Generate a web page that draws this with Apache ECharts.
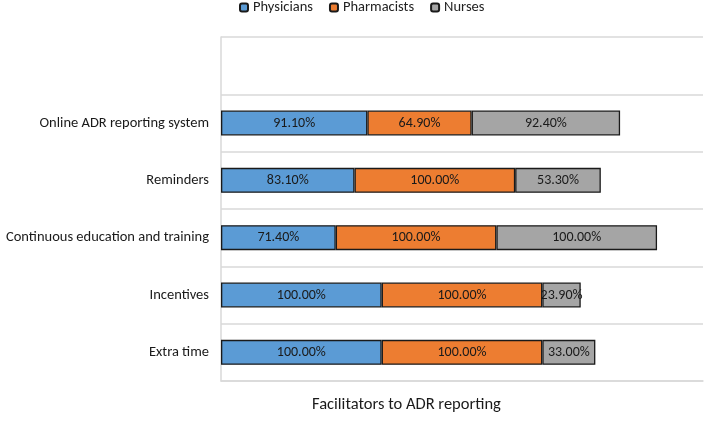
<!DOCTYPE html>
<html>
<head>
<meta charset="utf-8">
<script src="https://cdn.jsdelivr.net/npm/echarts@6/dist/echarts.min.js"></script>
<style>html,body{margin:0;padding:0;background:#fff}#c{width:713px;height:422px}</style>
</head>
<body>
<div id="c"></div>
<script>
var categories = ['Extra time', 'Incentives', 'Continuous education and training', 'Reminders', 'Online ADR reporting system', ''];
var physicians = [100, 100, 71.4, 83.1, 91.1, null];
var pharmacists = [100, 100, 100, 100, 64.9, null];
var nurses = [33, 23.9, 100, 53.3, 92.4, null];
var seriesNames = ['Physicians', 'Pharmacists', 'Nurses'];
var axisTitle = 'Facilitators to ADR reporting';

var FONT = 'Carlito, "Liberation Sans", Arial, sans-serif';
var colors = ['#5B9BD5', '#ED7D31', '#A5A5A5'];
function mk(name, data, color) {
  return {
    name: name, type: 'bar', stack: 'total', data: data, barWidth: 25,
    itemStyle: { color: color, borderColor: '#1a1a1a', borderWidth: 1.3 },
    label: { show: true, position: 'inside', color: '#1a1a1a', fontFamily: FONT, fontSize: 14,
      formatter: function (p) { return p.value == null ? '' : p.value.toFixed(2) + '%'; } },
    emphasis: { disabled: true }
  };
}
var chart = echarts.init(document.getElementById('c'), null, { renderer: 'canvas' });
chart.setOption({
  animation: false,
  color: colors,
  textStyle: { fontFamily: FONT },
  legend: {
    top: 0, left: 239, padding: [0, 0], itemWidth: 8, itemHeight: 8, itemGap: 16,
    textStyle: { fontFamily: FONT, fontSize: 14.5, color: '#222' },
    data: seriesNames
  },
  grid: { left: 221, right: 10, top: 37, bottom: 41, containLabel: false },
  xAxis: {
    type: 'value', min: 0, max: 300,
    axisLine: { show: true, lineStyle: { color: '#d9d9d9', width: 1.5 } },
    axisTick: { show: false }, axisLabel: { show: false }, splitLine: { show: false }
  },
  yAxis: {
    type: 'category', data: categories,
    axisLine: { show: true, lineStyle: { color: '#d9d9d9', width: 1.5 } },
    axisTick: { show: false },
    axisLabel: { margin: 12, color: '#1a1a1a', fontFamily: FONT, fontSize: 14.5 },
    splitLine: { show: true, lineStyle: { color: '#d9d9d9', width: 1.5 } }
  },
  graphic: [{
    type: 'text', left: 312, top: 396,
    style: { text: axisTitle, font: '16.5px ' + FONT, fill: '#1a1a1a' }
  }],
  series: [mk(seriesNames[0], physicians, colors[0]), mk(seriesNames[1], pharmacists, colors[1]), mk(seriesNames[2], nurses, colors[2])]
});
</script>
</body>
</html>
